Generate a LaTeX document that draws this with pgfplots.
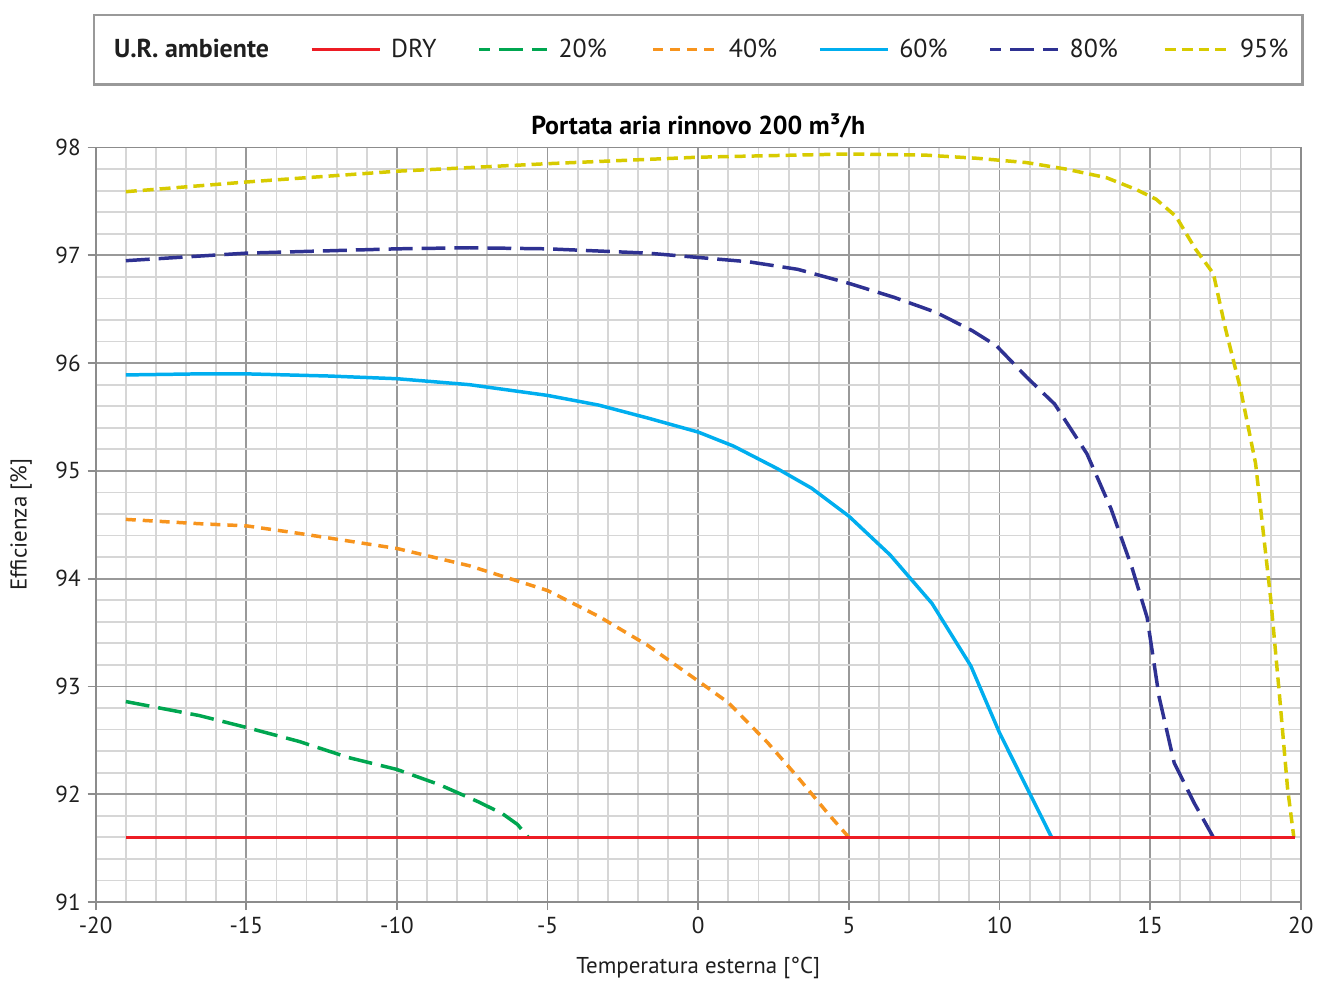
\documentclass[border=0pt]{standalone}
\usepackage{fontspec}
\setmainfont{PT Sans}
\usepackage{pgfplots}
\pgfplotsset{compat=1.18}
\definecolor{cdry}{HTML}{ED1C24}
\definecolor{cg}{HTML}{00A650}
\definecolor{co}{HTML}{F7941D}
\definecolor{cc}{HTML}{00AEEF}
\definecolor{cn}{HTML}{2E3192}
\definecolor{cy}{HTML}{D7CB00}
\begin{document}
\begin{tikzpicture}
\begin{axis}[name=ax, scale only axis, width=604.5pt, height=378.5pt,
  xmin=-20, xmax=20, ymin=91, ymax=98,
  xtick={-20,-15,...,20}, ytick={91,92,...,98},
  minor x tick num=4, minor y tick num=4,
  grid=both,
  major grid style={line width=0.9pt, draw=black!40},
  minor grid style={line width=0.9pt, draw=black!16},
  axis line style={line width=0.9pt, draw=black!45},
  major tick style={line width=0.9pt, draw=black!45},
  major tick length=4pt, minor tick length=0pt,
  tick align=outside, xtick pos=bottom, ytick pos=left,
  /pgf/number format/assume math mode=true,
  ticklabel style={font=\fontsize{11.6}{13}\selectfont, text=black!88},
  title={\textbf{Portata aria rinnovo 200 m³/h}},
  title style={font=\fontsize{13}{15}\selectfont, at={(0.5,1)}, anchor=south, yshift=-5pt},
  xlabel={Temperatura esterna [°C]}, ylabel={Efficienza [\%]},
  label style={font=\fontsize{11.5}{13}\selectfont, text=black!88},
  xlabel shift=5pt, ylabel shift=5pt,
  legend columns=7,
  legend style={at={(0.5,1)}, anchor=south, yshift=31pt, draw=black!40, line width=1.4pt,
    font=\fontsize{13}{15}\selectfont, inner xsep=5pt, inner ysep=10pt, text=black!88,
    column sep=3pt, /tikz/every even column/.append style={column sep=18.5pt}},
  legend image code/.code={\draw[#1, line width=1.75pt, dash phase=6.5pt] (0pt,0pt) -- (34pt,0pt);},
  every axis plot/.append style={line width=1.75pt},
]
\addlegendimage{empty legend}
\addlegendentry{\textbf{U.R. ambiente}\hspace{-6pt}}
\addplot[cdry] coordinates {(-19,91.6) (19.8,91.6)};
\addlegendentry{DRY}
\addplot[cg, dash pattern=on 12pt off 4.5pt] coordinates {
(-19,92.86) (-16.56,92.73) (-15,92.62) (-13.25,92.49) (-11.6,92.34) (-10,92.23)
(-8.6,92.09) (-7.3,91.93) (-6.5,91.82) (-6.0,91.72) (-5.64,91.6)};
\addlegendentry{20\%}
\addplot[co, dash pattern=on 5pt off 3.5pt] coordinates {
(-19,94.55) (-16.56,94.51) (-15,94.49) (-13.25,94.42) (-10,94.28) (-7.6,94.12)
(-5,93.89) (-3.3,93.65) (-1.67,93.38) (0,93.05) (1.0,92.85) (2.3,92.48)
(3.3,92.16) (4.28,91.83) (5,91.6)};
\addlegendentry{40\%}
\addplot[cc] coordinates {
(-19,95.89) (-16.56,95.90) (-15,95.90) (-12.26,95.88) (-10,95.855) (-7.6,95.80)
(-5,95.70) (-3.3,95.61) (-1.67,95.49) (0,95.36) (1.17,95.23) (2.63,95.02)
(3.76,94.84) (5,94.58) (6.37,94.22) (7.76,93.77) (9.05,93.19) (10.0,92.57)
(10.5,92.29) (11.73,91.6)};
\addlegendentry{60\%}
\addplot[cn, dash pattern=on 12pt off 4.5pt] coordinates {
(-19,96.95) (-15,97.02) (-10,97.06) (-7.6,97.07) (-5,97.06) (-1.67,97.02)
(0,96.98) (1.67,96.94) (3.3,96.87) (5,96.74) (6.5,96.61) (7.9,96.47)
(9.1,96.30) (9.9,96.16) (10.9,95.87) (11.83,95.62) (12.9,95.16) (13.7,94.65)
(14.4,94.10) (14.9,93.64) (15.3,92.90) (15.8,92.29) (16.46,91.92) (17.1,91.6)};
\addlegendentry{80\%}
\addplot[cy, dash pattern=on 5.5pt off 3pt] coordinates {
(-19,97.59) (-15,97.68) (-10,97.78) (-5,97.85) (0,97.91) (5,97.94)
(7.5,97.93) (9.25,97.90) (10.9,97.86) (12.2,97.80) (13.55,97.72) (14.54,97.61)
(15.2,97.52) (15.86,97.36) (16.5,97.06) (17.1,96.83) (17.5,96.32) (18.0,95.76)
(18.5,95.07) (19.0,93.82) (19.3,92.90) (19.56,92.06) (19.77,91.6)};
\addlegendentry{95\%}
\addplot[cdry, forget plot] coordinates {(-19,91.6) (19.8,91.6)};
\end{axis}
\path (ax.south west) ++(-48pt,-37pt);
\path (ax.north east) ++(7.5pt,74pt);
\end{tikzpicture}
\end{document}
